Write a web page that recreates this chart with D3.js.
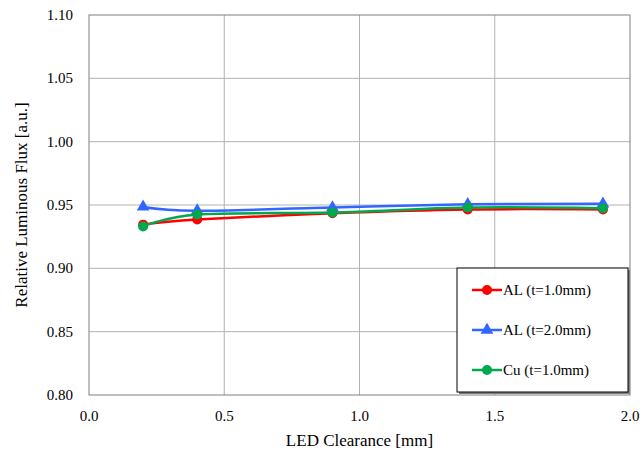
<!DOCTYPE html>
<html>
<head>
<meta charset="utf-8">
<script src="https://cdn.jsdelivr.net/npm/d3@7"></script>
<style>
  body { margin: 0; background: #fff; font-family: 'Liberation Serif'; }
  text { font-family: 'Liberation Serif' !important; }
</style>
</head>
<body>
<div id="chart"></div>
<script>
// LED clearance values (mm)
const clearance = [0.2, 0.4, 0.9, 1.4, 1.9]

// relative luminous flux per series
const al10 = [0.9345, 0.9385, 0.9435, 0.9465, 0.9465]
const al20 = [0.9485, 0.9455, 0.9480, 0.9505, 0.9510]
const cu10 = [0.9330, 0.9425, 0.9440, 0.9480, 0.9475]

const seriesNames = ['AL (t=1.0mm)', 'AL (t=2.0mm)', 'Cu (t=1.0mm)']
const seriesColors = ['#ff0000', '#3366ff', '#00a84f']
const seriesMarkers = ['circle', 'triangle', 'circle']

const xTicks = [0, 0.5, 1.0, 1.5, 2.0]
const yTicks = [0.80, 0.85, 0.90, 0.95, 1.00, 1.05, 1.10]

const width = 643
const height = 456
const margin = { top: 15, right: 13, bottom: 61, left: 89 }

const svg = d3.select('#chart').append('svg')
  .attr('width', width)
  .attr('height', height)

const xScale = d3.scaleLinear()
  .domain([0, 2])
  .range([margin.left, width - margin.right])

const yScale = d3.scaleLinear()
  .domain([0.8, 1.1])
  .range([height - margin.bottom, margin.top])

// grid lines
svg.append('g')
  .selectAll('line')
  .data(xTicks.slice(1, -1))
  .join('line')
  .attr('x1', d => xScale(d)).attr('x2', d => xScale(d))
  .attr('y1', yScale(0.8)).attr('y2', yScale(1.1))
  .attr('stroke', '#b3b3b3')
  .attr('stroke-width', 1)

svg.append('g')
  .selectAll('line')
  .data(yTicks.slice(1, -1))
  .join('line')
  .attr('x1', xScale(0)).attr('x2', xScale(2))
  .attr('y1', d => yScale(d)).attr('y2', d => yScale(d))
  .attr('stroke', '#b3b3b3')
  .attr('stroke-width', 1)

// plot frame
svg.append('rect')
  .attr('x', xScale(0))
  .attr('y', yScale(1.1))
  .attr('width', xScale(2) - xScale(0))
  .attr('height', yScale(0.8) - yScale(1.1))
  .attr('fill', 'none')
  .attr('stroke', '#7f7f7f')
  .attr('stroke-width', 1)

// tick labels
svg.append('g')
  .selectAll('text')
  .data(xTicks)
  .join('text')
  .attr('x', d => xScale(d))
  .attr('y', yScale(0.8) + 26)
  .attr('text-anchor', 'middle')
  .attr('font-size', 15)
  .text(d3.format('.1f'))

svg.append('g')
  .selectAll('text')
  .data(yTicks)
  .join('text')
  .attr('x', xScale(0) - 16)
  .attr('y', d => yScale(d) + 5)
  .attr('text-anchor', 'end')
  .attr('font-size', 15)
  .text(d3.format('.2f'))

// axis titles
svg.append('text')
  .attr('x', (xScale(0) + xScale(2)) / 2)
  .attr('y', 446)
  .attr('text-anchor', 'middle')
  .attr('font-size', 17)
  .text('LED Clearance [mm]')

svg.append('text')
  .attr('transform', `translate(27,${(yScale(0.8) + yScale(1.1)) / 2}) rotate(-90)`)
  .attr('text-anchor', 'middle')
  .attr('font-size', 17)
  .text('Relative Luminous Flux [a.u.]')

// series
const allSeries = [al10, al20, cu10]
const line = d3.line()
  .x((d, i) => xScale(clearance[i]))
  .y(d => yScale(d))
  .curve(d3.curveCatmullRom.alpha(0))

const triangle = d3.symbol().type(d3.symbolTriangle).size(70)

function drawMarker (g, type, color, x, y) {
  if (type === 'circle') {
    g.append('circle')
      .attr('cx', x).attr('cy', y).attr('r', 5)
      .attr('fill', color)
  } else {
    g.append('path')
      .attr('d', triangle)
      .attr('transform', `translate(${x},${y})`)
      .attr('fill', color)
  }
}

allSeries.forEach((vals, s) => {
  const g = svg.append('g')
  g.append('path')
    .datum(vals)
    .attr('d', line)
    .attr('fill', 'none')
    .attr('stroke', seriesColors[s])
    .attr('stroke-width', 2.5)
  vals.forEach((v, i) => drawMarker(g, seriesMarkers[s], seriesColors[s], xScale(clearance[i]), yScale(v)))
})

// legend
const legend = svg.append('g')
legend.append('rect')
  .attr('x', 459).attr('y', 270)
  .attr('width', 171).attr('height', 124)
  .attr('fill', '#7f7f7f')
legend.append('rect')
  .attr('x', 457).attr('y', 268)
  .attr('width', 171).attr('height', 124)
  .attr('fill', '#fff')
  .attr('stroke', '#000')
  .attr('stroke-width', 1)

seriesNames.forEach((name, s) => {
  const y = 290 + s * 40
  legend.append('line')
    .attr('x1', 472).attr('x2', 502)
    .attr('y1', y).attr('y2', y)
    .attr('stroke', seriesColors[s])
    .attr('stroke-width', 2.5)
  drawMarker(legend, seriesMarkers[s], seriesColors[s], 487, y)
  legend.append('text')
    .attr('x', 503)
    .attr('y', y + 5)
    .attr('font-size', 15)
    .text(name)
})
</script>
</body>
</html>
